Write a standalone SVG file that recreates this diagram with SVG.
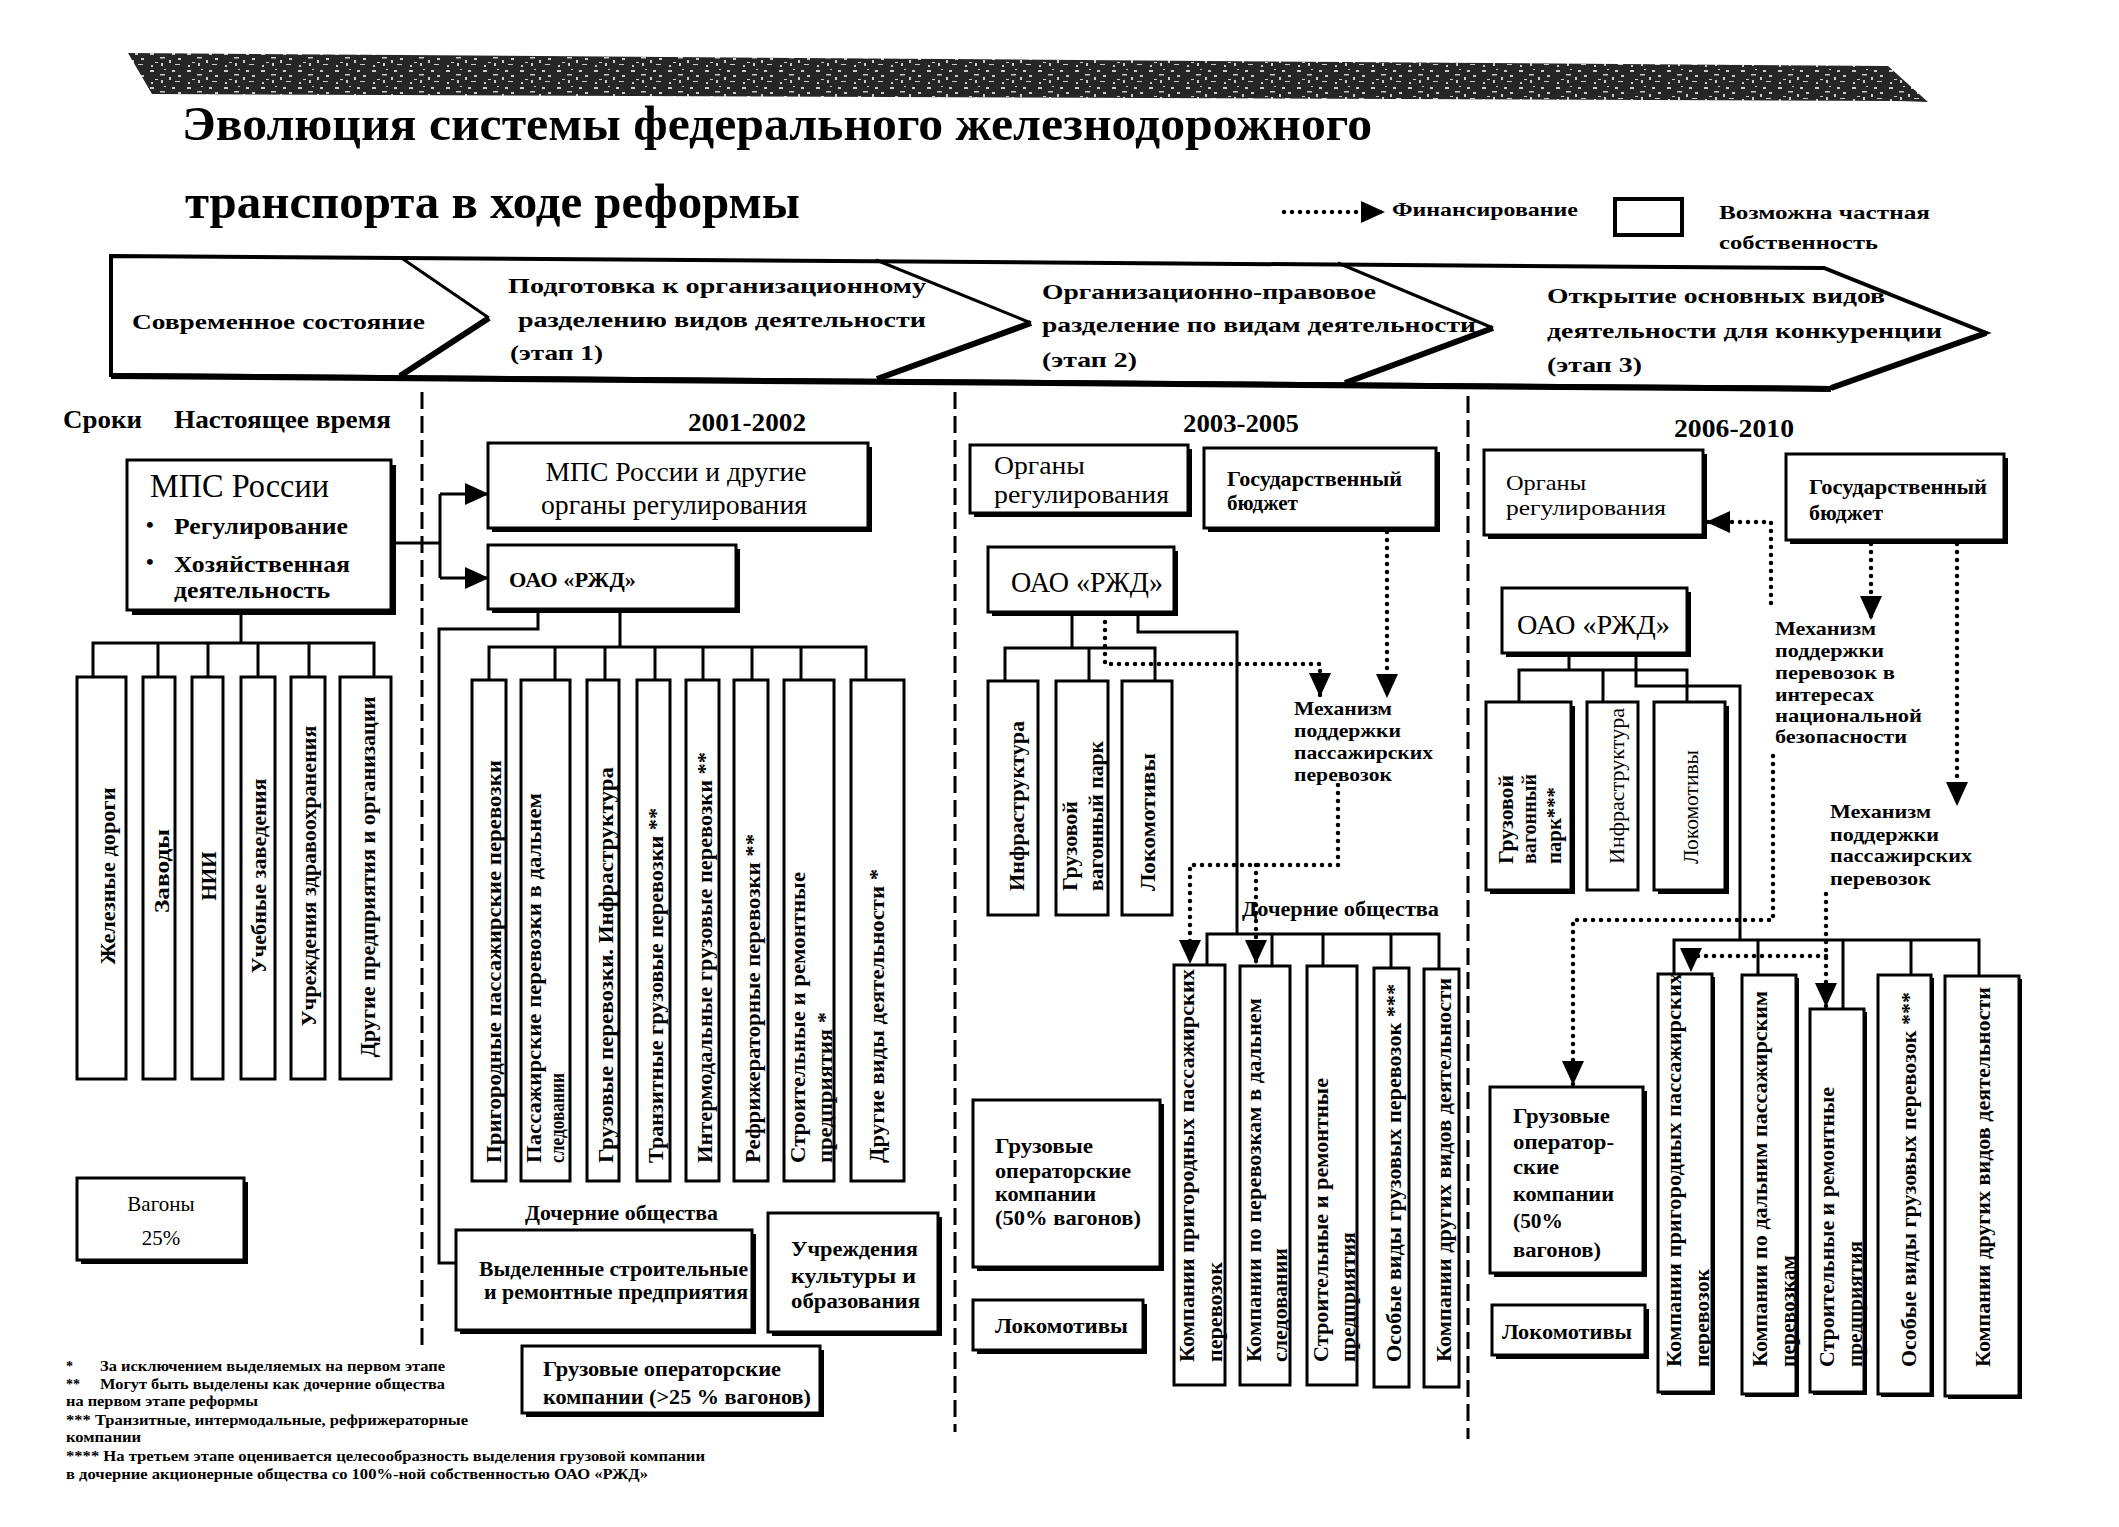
<svg xmlns="http://www.w3.org/2000/svg" width="2119" height="1527" viewBox="0 0 2119 1527">
<defs>
<style>
.t{font-family:"Liberation Serif","Times New Roman",serif;fill:#000}
.b{font-weight:bold}
.m{text-anchor:middle}
.bx{fill:#fff;stroke:#000;stroke-width:3}
.sh{fill:#000}
.ln{fill:none;stroke:#000;stroke-width:3}
.dt{fill:none;stroke:#000;stroke-width:4.5;stroke-dasharray:0 8;stroke-linecap:round}
.dv{fill:none;stroke:#000;stroke-width:3;stroke-dasharray:17 7}
.ch{fill:none;stroke:#000;stroke-width:3}
.chs{fill:none;stroke:#000;stroke-width:6}
.v{font-size:20px;font-weight:bold}
.st{font-size:22px;font-weight:bold}
</style>
<marker id="ar" viewBox="0 0 24 22" refX="24" refY="11" markerWidth="24" markerHeight="22" markerUnits="userSpaceOnUse" orient="auto"><path d="M0,0L24,11L0,22z" fill="#000"/></marker>
<pattern id="nz" width="37" height="17" patternUnits="userSpaceOnUse"><rect width="37" height="17" fill="#262626"/><path d="M2,2h4v2h-4zM12,6h5v1.5h-5zM21,9h2v3h-2zM7,11h3v1h-3zM24,2h3v2h-3zM16,1h2v1h-2zM30,7h3v2h-3zM3,14h2v2h-2zM27,13h5v1h-5zM13,12h2v3h-2z" fill="#ccc"/></pattern>
</defs>
<rect width="2119" height="1527" fill="#fff"/>

<g id="banner"><polygon points="128,53 1888,66 1928,102 1900,101 152,94" fill="url(#nz)"/></g>

<g id="title">
<text class="t b" x="182" y="140" font-size="48" textLength="1190" lengthAdjust="spacingAndGlyphs">Эволюция системы федерального железнодорожного</text>
<text class="t b" x="185" y="218" font-size="48" textLength="615" lengthAdjust="spacingAndGlyphs">транспорта в ходе реформы</text>
</g>

<g id="legend-financing">
<path class="dt" d="M1284,212 H1385" marker-end="url(#ar)"/>
<text class="t b" x="1392" y="216" font-size="19" textLength="186" lengthAdjust="spacingAndGlyphs">Финансирование</text>
</g>
<g id="legend-private">
<rect x="1615" y="199" width="67" height="36" fill="#fff" stroke="#000" stroke-width="4"/>
<text class="t b" x="1719" y="219" font-size="19" textLength="211" lengthAdjust="spacingAndGlyphs">Возможна частная</text>
<text class="t b" x="1719" y="249" font-size="19" textLength="159" lengthAdjust="spacingAndGlyphs">собственность</text>
</g>

<g id="stages">
<polygon points="111,256 1824,268 1986,333 1831,388 111,375" fill="#fff" stroke="#000" stroke-width="4"/>
<path class="chs" d="M111,376 L1831,389"/>
<path class="ch" d="M400,257 L489,318 M876,260 L1031,323 M1338,263 L1493,328"/>
<path class="chs" d="M489,318 L400,376 M1031,323 L877,379 M1493,328 L1345,383 M1986,333 L1831,388"/>
<text class="t st" x="132" y="329" textLength="293" lengthAdjust="spacingAndGlyphs">Современное состояние</text>
<text class="t st" x="508" y="293" textLength="418" lengthAdjust="spacingAndGlyphs">Подготовка к организационному</text>
<text class="t st" x="518" y="327" textLength="408" lengthAdjust="spacingAndGlyphs">разделению видов деятельности</text>
<text class="t st" x="510" y="360" textLength="93" lengthAdjust="spacingAndGlyphs">(этап 1)</text>
<text class="t st" x="1042" y="299" textLength="334" lengthAdjust="spacingAndGlyphs">Организационно-правовое</text>
<text class="t st" x="1042" y="332" textLength="434" lengthAdjust="spacingAndGlyphs">разделение по видам деятельности</text>
<text class="t st" x="1042" y="367" textLength="95" lengthAdjust="spacingAndGlyphs">(этап 2)</text>
<text class="t st" x="1547" y="303" textLength="338" lengthAdjust="spacingAndGlyphs">Открытие основных видов</text>
<text class="t st" x="1547" y="338" textLength="395" lengthAdjust="spacingAndGlyphs">деятельности для конкуренции</text>
<text class="t st" x="1547" y="372" textLength="95" lengthAdjust="spacingAndGlyphs">(этап 3)</text>
</g>

<g id="dividers">
<path class="dv" d="M422,392 V1345 M955,392 V1432 M1468,396 V1439"/>
</g>

<g id="periods">
<text class="t b" x="63" y="428" font-size="25" textLength="79" lengthAdjust="spacingAndGlyphs">Сроки</text>
<text class="t b" x="174" y="428" font-size="25" textLength="217" lengthAdjust="spacingAndGlyphs">Настоящее время</text>
<text class="t b" x="688" y="431" font-size="25" textLength="118" lengthAdjust="spacingAndGlyphs">2001-2002</text>
<text class="t b" x="1183" y="432" font-size="25" textLength="116" lengthAdjust="spacingAndGlyphs">2003-2005</text>
<text class="t b" x="1674" y="437" font-size="25" textLength="120" lengthAdjust="spacingAndGlyphs">2006-2010</text>
</g>

<g id="connectors">
<path class="ln" d="M391,543 H440 M440,494 V578 M241,610 V643 M93,677 V643 H374 V677 M158,643 V677 M208,643 V677 M258,643 V677 M309,643 V677"/>
<path class="ln" d="M440,494 H489" marker-end="url(#ar)"/>
<path class="ln" d="M440,578 H489" marker-end="url(#ar)"/>
<path class="ln" d="M538,609 V629 H439 V1263 H456 M620,609 V647 M489,680 V647 H866 V680 M555,647 V680 M605,647 V680 M655,647 V680 M703,647 V680 M752,647 V680 M801,647 V680"/>
<path class="ln" d="M1072,612 V648 M1005,681 V648 H1155 V681 M1089,648 V681 M1138,612 V632 H1237 V934 M1207,965 V934 H1439 V969 M1272,934 V966 M1323,934 V966 M1391,934 V968"/>
<path class="dt" d="M1105,614 V664 H1320 V697" marker-end="url(#ar)"/>
<path class="dt" d="M1387,532 V698" marker-end="url(#ar)"/>
<path class="dt" d="M1338,785 V865 H1190 V964" marker-end="url(#ar)"/>
<path class="dt" d="M1256,865 V964" marker-end="url(#ar)"/>
<path class="ln" d="M1569,653 V670 M1519,704 V670 H1687 V704 M1603,670 V704 M1636,653 V686 H1740 V940 M1674,974 V940 H1979 V976 M1758,940 V975 M1843,940 V1009 M1911,940 V975"/>
<path class="dt" d="M1771,603 V522 H1706" marker-end="url(#ar)"/>
<path class="dt" d="M1871,544 V620" marker-end="url(#ar)"/>
<path class="dt" d="M1957,544 V806" marker-end="url(#ar)"/>
<path class="dt" d="M1773,756 V920 H1573 V1085" marker-end="url(#ar)"/>
<path class="dt" d="M1826,894 V1007" marker-end="url(#ar)"/>
<path class="dt" d="M1826,956 H1691 V972" marker-end="url(#ar)"/>
</g>

<g id="mps">
<rect class="sh" x="132" y="465" width="264" height="150"/>
<rect class="bx" x="127" y="460" width="264" height="150"/>
<text class="t" x="150" y="497" font-size="33" textLength="179" lengthAdjust="spacingAndGlyphs">МПС России</text>
<text class="t b" x="146" y="532" font-size="22">•</text>
<text class="t b" x="174" y="534" font-size="24" textLength="174" lengthAdjust="spacingAndGlyphs">Регулирование</text>
<text class="t b" x="146" y="569" font-size="22">•</text>
<text class="t b" x="174" y="572" font-size="23" textLength="176" lengthAdjust="spacingAndGlyphs">Хозяйственная</text>
<text class="t b" x="174" y="598" font-size="23" textLength="156" lengthAdjust="spacingAndGlyphs">деятельность</text>
</g>

<g id="s0-railways"><rect class="bx" x="77" y="677" width="49" height="402"/><text class="t b m" font-size="22" transform="translate(115,876) rotate(-90)" textLength="177" lengthAdjust="spacingAndGlyphs">Железные дороги</text></g>
<g id="s0-plants"><rect class="bx" x="143" y="677" width="32" height="402"/><text class="t b m" font-size="22" transform="translate(169,871) rotate(-90)" textLength="84" lengthAdjust="spacingAndGlyphs">Заводы</text></g>
<g id="s0-nii"><rect class="bx" x="192" y="677" width="31" height="402"/><text class="t b m" font-size="22" transform="translate(216,876) rotate(-90)" textLength="49" lengthAdjust="spacingAndGlyphs">НИИ</text></g>
<g id="s0-edu"><rect class="bx" x="241" y="677" width="34" height="402"/><text class="t b m" font-size="22" transform="translate(266,876) rotate(-90)" textLength="195" lengthAdjust="spacingAndGlyphs">Учебные заведения</text></g>
<g id="s0-health"><rect class="bx" x="291" y="677" width="34" height="402"/><text class="t b m" font-size="22" transform="translate(316,876) rotate(-90)" textLength="301" lengthAdjust="spacingAndGlyphs">Учреждения здравоохранения</text></g>
<g id="s0-other"><rect class="bx" x="340" y="677" width="51" height="402"/><text class="t b m" font-size="22" transform="translate(375,877) rotate(-90)" textLength="361" lengthAdjust="spacingAndGlyphs">Другие предприятия и организации</text></g>

<g id="s0-wagons">
<rect class="sh" x="81" y="1182" width="167" height="82"/>
<rect class="bx" x="77" y="1178" width="167" height="82"/>
<text class="t m" x="161" y="1211" font-size="21">Вагоны</text>
<text class="t m" x="161" y="1245" font-size="21">25%</text>
</g>

<g id="footnotes">
<text class="t b" x="66" y="1371" font-size="14">*</text>
<text class="t b" x="100" y="1371" font-size="14" textLength="345" lengthAdjust="spacingAndGlyphs">За исключением выделяемых на первом этапе</text>
<text class="t b" x="66" y="1389" font-size="14">**</text>
<text class="t b" x="100" y="1389" font-size="14" textLength="345" lengthAdjust="spacingAndGlyphs">Могут быть выделены как дочерние общества</text>
<text class="t b" x="66" y="1406" font-size="14" textLength="192" lengthAdjust="spacingAndGlyphs">на первом этапе реформы</text>
<text class="t b" x="66" y="1425" font-size="14" textLength="402" lengthAdjust="spacingAndGlyphs">*** Транзитные, интермодальные, рефрижераторные</text>
<text class="t b" x="66" y="1442" font-size="14" textLength="75" lengthAdjust="spacingAndGlyphs">компании</text>
<text class="t b" x="66" y="1461" font-size="14" textLength="639" lengthAdjust="spacingAndGlyphs">**** На третьем этапе оценивается  целесообразность выделения грузовой компании</text>
<text class="t b" x="66" y="1479" font-size="14" textLength="582" lengthAdjust="spacingAndGlyphs">в дочерние акционерные общества со 100%-ной собственностью ОАО «РЖД»</text>
</g>

<g id="s1-regulators">
<rect class="sh" x="492" y="447" width="380" height="85"/>
<rect class="bx" x="488" y="443" width="380" height="85"/>
<text class="t m" x="676" y="481" font-size="27" textLength="261" lengthAdjust="spacingAndGlyphs">МПС России и другие</text>
<text class="t m" x="674" y="514" font-size="27" textLength="266" lengthAdjust="spacingAndGlyphs">органы регулирования</text>
</g>
<g id="s1-rzd">
<rect class="sh" x="492" y="549" width="248" height="64"/>
<rect class="bx" x="488" y="545" width="248" height="64"/>
<text class="t b" x="509" y="587" font-size="21" textLength="127" lengthAdjust="spacingAndGlyphs">ОАО «РЖД»</text>
</g>
<g id="s1-b1"><rect class="bx" x="472" y="680" width="34" height="501"/><text class="t v" transform="translate(501,1163) rotate(-90)" textLength="403" lengthAdjust="spacingAndGlyphs">Пригородные пассажирские перевозки</text></g>
<g id="s1-b2"><rect class="bx" x="521" y="680" width="49" height="501"/><text class="t v" transform="translate(541,1163) rotate(-90)" textLength="370" lengthAdjust="spacingAndGlyphs">Пассажирские перевозки в дальнем</text><text class="t v" transform="translate(564,1163) rotate(-90)" textLength="90" lengthAdjust="spacingAndGlyphs">следовании</text></g>
<g id="s1-b3"><rect class="bx" x="587" y="680" width="32" height="501"/><text class="t v" transform="translate(613,1163) rotate(-90)" textLength="396" lengthAdjust="spacingAndGlyphs">Грузовые перевозки. Инфраструктура</text></g>
<g id="s1-b4"><rect class="bx" x="637" y="680" width="33" height="501"/><text class="t v" transform="translate(663,1163) rotate(-90)" textLength="355" lengthAdjust="spacingAndGlyphs">Транзитные грузовые перевозки **</text></g>
<g id="s1-b5"><rect class="bx" x="686" y="680" width="33" height="501"/><text class="t v" transform="translate(712,1163) rotate(-90)" textLength="411" lengthAdjust="spacingAndGlyphs">Интермодальные грузовые перевозки **</text></g>
<g id="s1-b6"><rect class="bx" x="734" y="680" width="34" height="501"/><text class="t v" transform="translate(760,1163) rotate(-90)" textLength="329" lengthAdjust="spacingAndGlyphs">Рефрижераторные перевозки **</text></g>
<g id="s1-b7"><rect class="bx" x="784" y="680" width="50" height="501"/><text class="t v" transform="translate(805,1163) rotate(-90)" textLength="291" lengthAdjust="spacingAndGlyphs">Строительные и ремонтные</text><text class="t v" transform="translate(832,1163) rotate(-90)" textLength="151" lengthAdjust="spacingAndGlyphs">предприятия *</text></g>
<g id="s1-b8"><rect class="bx" x="851" y="680" width="53" height="501"/><text class="t v" transform="translate(884,1163) rotate(-90)" textLength="294" lengthAdjust="spacingAndGlyphs">Другие виды деятельности *</text></g>
<g id="s1-subs-label"><text class="t b" x="525" y="1220" font-size="20" textLength="193" lengthAdjust="spacingAndGlyphs">Дочерние общества</text></g>
<g id="s1-construction">
<rect class="sh" x="460" y="1234" width="296" height="100"/>
<rect class="bx" x="456" y="1230" width="296" height="100"/>
<text class="t b" x="479" y="1276" font-size="20" textLength="269" lengthAdjust="spacingAndGlyphs">Выделенные строительные</text>
<text class="t b" x="484" y="1299" font-size="20" textLength="264" lengthAdjust="spacingAndGlyphs">и ремонтные предприятия</text>
</g>
<g id="s1-culture">
<rect class="sh" x="772" y="1217" width="170" height="119"/>
<rect class="bx" x="768" y="1213" width="170" height="119"/>
<text class="t b" x="791" y="1256" font-size="21" textLength="127" lengthAdjust="spacingAndGlyphs">Учреждения</text>
<text class="t b" x="791" y="1283" font-size="21" textLength="125" lengthAdjust="spacingAndGlyphs">культуры  и</text>
<text class="t b" x="791" y="1308" font-size="21" textLength="129" lengthAdjust="spacingAndGlyphs">образования</text>
</g>
<g id="s1-freight-op">
<rect class="sh" x="526" y="1350" width="298" height="67"/>
<rect class="bx" x="522" y="1346" width="298" height="67"/>
<text class="t b" x="543" y="1376" font-size="21" textLength="238" lengthAdjust="spacingAndGlyphs">Грузовые операторские</text>
<text class="t b" x="543" y="1404" font-size="21" textLength="268" lengthAdjust="spacingAndGlyphs">компании (&gt;25 % вагонов)</text>
</g>

<g id="s2-regulators">
<rect class="sh" x="974" y="449" width="218" height="68"/>
<rect class="bx" x="970" y="445" width="218" height="68"/>
<text class="t" x="994" y="474" font-size="25" textLength="91" lengthAdjust="spacingAndGlyphs">Органы</text>
<text class="t" x="994" y="503" font-size="25" textLength="175" lengthAdjust="spacingAndGlyphs">регулирования</text>
</g>
<g id="s2-budget">
<rect class="sh" x="1208" y="452" width="232" height="80"/>
<rect class="bx" x="1204" y="448" width="232" height="80"/>
<text class="t b" x="1227" y="486" font-size="21" textLength="175" lengthAdjust="spacingAndGlyphs">Государственный</text>
<text class="t b" x="1227" y="510" font-size="21" textLength="71" lengthAdjust="spacingAndGlyphs">бюджет</text>
</g>
<g id="s2-rzd">
<rect class="sh" x="992" y="551" width="186" height="65"/>
<rect class="bx" x="988" y="547" width="186" height="65"/>
<text class="t" x="1011" y="592" font-size="29" textLength="152" lengthAdjust="spacingAndGlyphs">ОАО «РЖД»</text>
</g>
<g id="s2-infra"><rect class="bx" x="988" y="681" width="50" height="234"/><text class="t v" transform="translate(1024,891) rotate(-90)" textLength="170" lengthAdjust="spacingAndGlyphs">Инфраструктура</text></g>
<g id="s2-wagons"><rect class="bx" x="1056" y="681" width="52" height="234"/><text class="t v" transform="translate(1077,891) rotate(-90)" textLength="90" lengthAdjust="spacingAndGlyphs">Грузовой</text><text class="t v" transform="translate(1103,891) rotate(-90)" textLength="150" lengthAdjust="spacingAndGlyphs">вагонный парк</text></g>
<g id="s2-locos"><rect class="bx" x="1122" y="681" width="50" height="234"/><text class="t v" transform="translate(1155,891) rotate(-90)" textLength="138" lengthAdjust="spacingAndGlyphs">Локомотивы</text></g>
<g id="s2-mechanism">
<text class="t b" x="1294" y="715" font-size="19" textLength="98" lengthAdjust="spacingAndGlyphs">Механизм</text>
<text class="t b" x="1294" y="737" font-size="19" textLength="107" lengthAdjust="spacingAndGlyphs">поддержки</text>
<text class="t b" x="1294" y="759" font-size="19" textLength="139" lengthAdjust="spacingAndGlyphs">пассажирских</text>
<text class="t b" x="1294" y="781" font-size="19" textLength="98" lengthAdjust="spacingAndGlyphs">перевозок</text>
</g>
<g id="s2-subs-label"><text class="t b" x="1242" y="916" font-size="20" textLength="197" lengthAdjust="spacingAndGlyphs">Дочерние общества</text></g>
<g id="s2-c1"><rect class="bx" x="1174" y="965" width="51" height="420"/><text class="t v" transform="translate(1194,1362) rotate(-90)" textLength="393" lengthAdjust="spacingAndGlyphs">Компании пригородных пассажирских</text><text class="t v" transform="translate(1222,1362) rotate(-90)" textLength="100" lengthAdjust="spacingAndGlyphs">перевозок</text></g>
<g id="s2-c2"><rect class="bx" x="1240" y="966" width="50" height="419"/><text class="t v" transform="translate(1261,1362) rotate(-90)" textLength="364" lengthAdjust="spacingAndGlyphs">Компании по перевозкам в дальнем</text><text class="t v" transform="translate(1287,1362) rotate(-90)" textLength="114" lengthAdjust="spacingAndGlyphs">следовании</text></g>
<g id="s2-c3"><rect class="bx" x="1307" y="966" width="50" height="419"/><text class="t v" transform="translate(1328,1362) rotate(-90)" textLength="284" lengthAdjust="spacingAndGlyphs">Строительные и ремонтные</text><text class="t v" transform="translate(1355,1362) rotate(-90)" textLength="130" lengthAdjust="spacingAndGlyphs">предприятия</text></g>
<g id="s2-c4"><rect class="bx" x="1374" y="968" width="35" height="419"/><text class="t v" transform="translate(1401,1362) rotate(-90)" textLength="378" lengthAdjust="spacingAndGlyphs">Особые виды грузовых перевозок ***</text></g>
<g id="s2-c5"><rect class="bx" x="1424" y="969" width="35" height="418"/><text class="t v" transform="translate(1451,1362) rotate(-90)" textLength="384" lengthAdjust="spacingAndGlyphs">Компании других видов деятельности</text></g>
<g id="s2-freight-op">
<rect class="sh" x="977" y="1104" width="187" height="167"/>
<rect class="bx" x="973" y="1100" width="187" height="167"/>
<text class="t b" x="995" y="1153" font-size="20" textLength="98" lengthAdjust="spacingAndGlyphs">Грузовые</text>
<text class="t b" x="995" y="1178" font-size="20" textLength="136" lengthAdjust="spacingAndGlyphs">операторские</text>
<text class="t b" x="995" y="1201" font-size="20" textLength="101" lengthAdjust="spacingAndGlyphs">компании</text>
<text class="t b" x="995" y="1225" font-size="20" textLength="146" lengthAdjust="spacingAndGlyphs">(50% вагонов)</text>
</g>
<g id="s2-locos-private">
<rect class="sh" x="977" y="1304" width="170" height="50"/>
<rect class="bx" x="973" y="1300" width="170" height="50"/>
<text class="t b" x="995" y="1333" font-size="20" textLength="133" lengthAdjust="spacingAndGlyphs">Локомотивы</text>
</g>

<g id="s3-regulators">
<rect class="sh" x="1488" y="454" width="219" height="85"/>
<rect class="bx" x="1484" y="450" width="219" height="85"/>
<text class="t" x="1506" y="490" font-size="22" textLength="80" lengthAdjust="spacingAndGlyphs">Органы</text>
<text class="t" x="1506" y="515" font-size="22" textLength="160" lengthAdjust="spacingAndGlyphs">регулирования</text>
</g>
<g id="s3-budget">
<rect class="sh" x="1790" y="458" width="218" height="86"/>
<rect class="bx" x="1786" y="454" width="218" height="86"/>
<text class="t b" x="1809" y="494" font-size="20" textLength="178" lengthAdjust="spacingAndGlyphs">Государственный</text>
<text class="t b" x="1809" y="520" font-size="20" textLength="74" lengthAdjust="spacingAndGlyphs">бюджет</text>
</g>
<g id="s3-rzd">
<rect class="sh" x="1506" y="592" width="185" height="65"/>
<rect class="bx" x="1502" y="588" width="185" height="65"/>
<text class="t" x="1517" y="634" font-size="28" textLength="153" lengthAdjust="spacingAndGlyphs">ОАО «РЖД»</text>
</g>
<g id="s3-wagons"><rect class="sh" x="1490" y="706" width="85" height="188"/><rect class="bx" x="1486" y="702" width="85" height="188"/><text class="t v" transform="translate(1513,864) rotate(-90)" textLength="89" lengthAdjust="spacingAndGlyphs">Грузовой</text><text class="t v" transform="translate(1536,864) rotate(-90)" textLength="90" lengthAdjust="spacingAndGlyphs">вагонный</text><text class="t v" transform="translate(1561,864) rotate(-90)" textLength="77" lengthAdjust="spacingAndGlyphs">парк***</text></g>
<g id="s3-infra"><rect class="bx" x="1587" y="702" width="51" height="188"/><text class="t" font-size="22" transform="translate(1624,864) rotate(-90)" textLength="156" lengthAdjust="spacingAndGlyphs">Инфраструктура</text></g>
<g id="s3-locos"><rect class="sh" x="1658" y="706" width="71" height="188"/><rect class="bx" x="1654" y="702" width="71" height="188"/><text class="t" font-size="22" transform="translate(1698,864) rotate(-90)" textLength="114" lengthAdjust="spacingAndGlyphs">Локомотивы</text></g>
<g id="s3-mech-security">
<text class="t b" x="1775" y="635" font-size="19" textLength="101" lengthAdjust="spacingAndGlyphs">Механизм</text>
<text class="t b" x="1775" y="657" font-size="19" textLength="109" lengthAdjust="spacingAndGlyphs">поддержки</text>
<text class="t b" x="1775" y="679" font-size="19" textLength="120" lengthAdjust="spacingAndGlyphs">перевозок в</text>
<text class="t b" x="1775" y="701" font-size="19" textLength="99" lengthAdjust="spacingAndGlyphs">интересах</text>
<text class="t b" x="1775" y="722" font-size="19" textLength="147" lengthAdjust="spacingAndGlyphs">национальной</text>
<text class="t b" x="1775" y="743" font-size="19" textLength="132" lengthAdjust="spacingAndGlyphs">безопасности</text>
</g>
<g id="s3-mech-passenger">
<text class="t b" x="1830" y="818" font-size="19" textLength="101" lengthAdjust="spacingAndGlyphs">Механизм</text>
<text class="t b" x="1830" y="841" font-size="19" textLength="109" lengthAdjust="spacingAndGlyphs">поддержки</text>
<text class="t b" x="1830" y="862" font-size="19" textLength="142" lengthAdjust="spacingAndGlyphs">пассажирских</text>
<text class="t b" x="1830" y="885" font-size="19" textLength="101" lengthAdjust="spacingAndGlyphs">перевозок</text>
</g>
<g id="s3-c1"><rect class="sh" x="1661" y="977" width="54" height="418"/><rect class="bx" x="1658" y="974" width="54" height="418"/><text class="t v" transform="translate(1681,1367) rotate(-90)" textLength="394" lengthAdjust="spacingAndGlyphs">Компании пригородных пассажирских</text><text class="t v" transform="translate(1709,1367) rotate(-90)" textLength="98" lengthAdjust="spacingAndGlyphs">перевозок</text></g>
<g id="s3-c2"><rect class="sh" x="1745" y="978" width="54" height="419"/><rect class="bx" x="1742" y="975" width="54" height="419"/><text class="t v" transform="translate(1767,1367) rotate(-90)" textLength="376" lengthAdjust="spacingAndGlyphs">Компании по дальним пассажирским</text><text class="t v" transform="translate(1795,1367) rotate(-90)" textLength="112" lengthAdjust="spacingAndGlyphs">перевозкам</text></g>
<g id="s3-c3"><rect class="sh" x="1813" y="1012" width="54" height="383"/><rect class="bx" x="1810" y="1009" width="54" height="383"/><text class="t v" transform="translate(1834,1367) rotate(-90)" textLength="280" lengthAdjust="spacingAndGlyphs">Строительные и ремонтные</text><text class="t v" transform="translate(1862,1367) rotate(-90)" textLength="126" lengthAdjust="spacingAndGlyphs">предприятия</text></g>
<g id="s3-c4"><rect class="sh" x="1881" y="978" width="53" height="419"/><rect class="bx" x="1878" y="975" width="53" height="419"/><text class="t v" transform="translate(1916,1367) rotate(-90)" textLength="375" lengthAdjust="spacingAndGlyphs">Особые виды грузовых перевозок ***</text></g>
<g id="s3-c5"><rect class="sh" x="1948" y="979" width="74" height="420"/><rect class="bx" x="1945" y="976" width="74" height="420"/><text class="t v" transform="translate(1990,1367) rotate(-90)" textLength="380" lengthAdjust="spacingAndGlyphs">Компании других видов деятельности</text></g>
<g id="s3-freight-op">
<rect class="sh" x="1494" y="1091" width="153" height="186"/>
<rect class="bx" x="1490" y="1087" width="153" height="186"/>
<text class="t b" x="1513" y="1123" font-size="20" textLength="97" lengthAdjust="spacingAndGlyphs">Грузовые</text>
<text class="t b" x="1513" y="1149" font-size="20" textLength="101" lengthAdjust="spacingAndGlyphs">оператор-</text>
<text class="t b" x="1513" y="1174" font-size="20" textLength="46" lengthAdjust="spacingAndGlyphs">ские</text>
<text class="t b" x="1513" y="1201" font-size="20" textLength="101" lengthAdjust="spacingAndGlyphs">компании</text>
<text class="t b" x="1513" y="1228" font-size="20" textLength="50" lengthAdjust="spacingAndGlyphs">(50%</text>
<text class="t b" x="1513" y="1257" font-size="20" textLength="88" lengthAdjust="spacingAndGlyphs">вагонов)</text>
</g>
<g id="s3-locos-private">
<rect class="sh" x="1496" y="1309" width="153" height="50"/>
<rect class="bx" x="1492" y="1305" width="153" height="50"/>
<text class="t b" x="1502" y="1339" font-size="20" textLength="130" lengthAdjust="spacingAndGlyphs">Локомотивы</text>
</g>
</svg>
